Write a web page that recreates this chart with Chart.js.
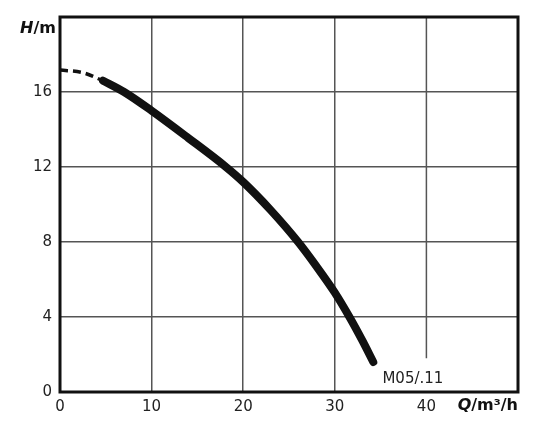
<!DOCTYPE html>
<html>
<head>
<meta charset="utf-8">
<script src="https://cdn.jsdelivr.net/npm/chart.js@4"></script>
<style>
  html, body { margin: 0; padding: 0; background: #fff; }
  #wrap { width: 540px; height: 431px; }
</style>
</head>
<body>
<div id="wrap"><canvas id="pump"></canvas></div>
<script>
// pump curve M05/.11, Q in m³/h, H in m
const qDashed = [0, 2.5, 4.7];
const hDashed = [17.17, 17.03, 16.6];
const qSolid = [4.7, 7, 10, 14, 18, 20, 23, 26, 28, 30, 31.6, 33, 34.2];
const hSolid = [16.6, 16.0, 15.0, 13.55, 12.05, 11.2, 9.7, 8.0, 6.7, 5.3, 4.0, 2.75, 1.6];
const xTicks = [0, 10, 20, 30, 40];
const yTicks = [0, 4, 8, 12, 16];
const curveName = "M05/.11";

const toPoints = (qs, hs) => qs.map((q, i) => ({ x: q, y: hs[i] }));

const frame = {
    id: "frame",
    afterDraw(chart) {
        const ctx = chart.ctx;
        const a = chart.chartArea;
        const xs = chart.scales.x, ys = chart.scales.y;
        ctx.save();
        // gridline at 40 stops above the curve label
        ctx.strokeStyle = "#555";
        ctx.lineWidth = 1.5;
        ctx.beginPath();
        ctx.moveTo(xs.getPixelForValue(40), a.top);
        ctx.lineTo(xs.getPixelForValue(40), ys.getPixelForValue(1.8));
        ctx.stroke();
        // frame
        ctx.strokeStyle = "#111";
        ctx.lineWidth = 3;
        ctx.strokeRect(a.left, a.top, a.right - a.left, a.bottom - a.top);
        // texts
        ctx.fillStyle = "#222";
        ctx.textBaseline = "alphabetic";
        ctx.font = "15px 'DejaVu Sans'";
        ctx.textAlign = "left";
        ctx.fillText(curveName, xs.getPixelForValue(35.2), ys.getPixelForValue(0.48));
        // axis titles
        ctx.fillStyle = "#111";
        ctx.font = "italic bold 16px 'DejaVu Sans'";
        let x = 20;
        ctx.fillText("H", x, 33);
        x += ctx.measureText("H").width;
        ctx.font = "bold 16px 'DejaVu Sans'";
        ctx.fillText("/m", x, 33);
        ctx.font = "italic bold 16px 'DejaVu Sans'";
        const qw = ctx.measureText("Q").width;
        ctx.font = "bold 16px 'DejaVu Sans'";
        const rw = ctx.measureText("/m³/h").width;
        x = 518 - qw - rw;
        ctx.font = "italic bold 16px 'DejaVu Sans'";
        ctx.fillText("Q", x, 410);
        ctx.font = "bold 16px 'DejaVu Sans'";
        ctx.fillText("/m³/h", x + qw, 410);
        ctx.restore();
    }
};

new Chart(document.getElementById("pump").getContext("2d"), {
    type: "line",
    data: {
        datasets: [{
            data: toPoints(qSolid, hSolid),
            borderColor: "#111",
            borderWidth: 8,
            borderCapStyle: "round",
            cubicInterpolationMode: "monotone",
            pointRadius: 0
        }, {
            data: toPoints(qDashed, hDashed),
            borderColor: "#111",
            borderWidth: 3.5,
            borderDash: [8, 5],
            cubicInterpolationMode: "monotone",
            pointRadius: 0
        }]
    },
    options: {
        responsive: true,
        maintainAspectRatio: false,
        animation: false,
        layout: { padding: { top: 17, right: 22, left: 0, bottom: 0 } },
        plugins: { legend: { display: false }, tooltip: { enabled: false } },
        scales: {
            x: {
                type: "linear",
                min: 0, max: 50,
                afterFit: s => { s.height = 39; },
                afterBuildTicks: s => { s.ticks = xTicks.concat([50]).map(v => ({ value: v })); },
                border: { display: false },
                grid: {
                    drawTicks: false,
                    lineWidth: 1.5,
                    color: c => (c.tick && (c.tick.value === 10 || c.tick.value === 20 || c.tick.value === 30)) ? "#555" : "rgba(0,0,0,0)"
                },
                ticks: {
                    padding: 6,
                    color: "#222",
                    font: { family: "DejaVu Sans", size: 15 },
                    callback: v => xTicks.includes(v) ? String(v) : ""
                }
            },
            y: {
                min: 0, max: 20,
                afterFit: s => { s.width = 60; },
                afterBuildTicks: s => { s.ticks = yTicks.concat([20]).map(v => ({ value: v })); },
                border: { display: false },
                grid: {
                    drawTicks: false,
                    lineWidth: 1.5,
                    color: c => (c.tick && c.tick.value > 0 && c.tick.value < 20) ? "#555" : "rgba(0,0,0,0)"
                },
                ticks: {
                    padding: 8,
                    color: "#222",
                    font: { family: "DejaVu Sans", size: 15 },
                    callback: v => yTicks.includes(v) ? String(v) : ""
                }
            }
        }
    },
    plugins: [frame]
});
</script>
</body>
</html>
